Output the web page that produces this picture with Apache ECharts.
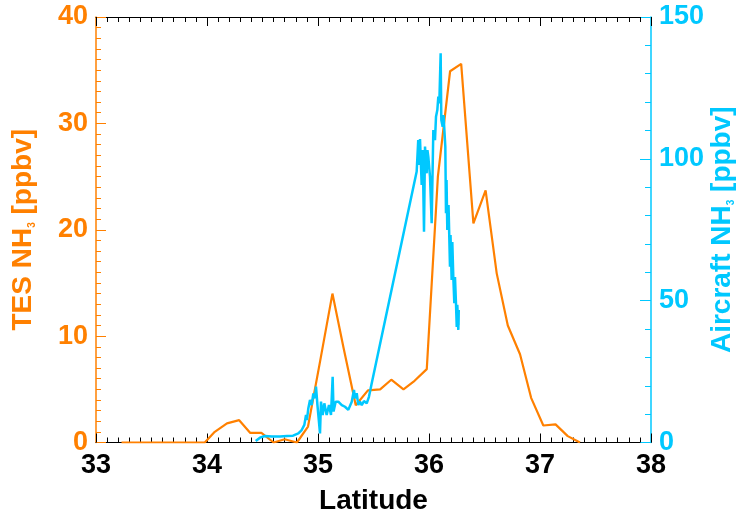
<!DOCTYPE html>
<html><head><meta charset="utf-8">
<script src="https://cdn.jsdelivr.net/npm/echarts@6.0.0/dist/echarts.min.js"></script>
<style>html,body{margin:0;padding:0;background:#fff}#c{width:738px;height:511px}</style>
</head><body><div id="c"></div>
<script>
// TES NH3 (left axis, ppbv)
const tesLat = [33.23,33.34,33.44,33.55,33.65,33.76,33.87,33.98,34.07,34.18,34.29,34.39,34.49,34.60,34.70,34.81,34.91,35.02,35.13,35.23,35.34,35.45,35.56,35.66,35.77,35.87,35.98,36.08,36.19,36.29,36.40,36.51,36.61,36.71,36.82,36.92,37.03,37.14,37.25,37.36];
const tesVal = [0,0,0,0,0,0,0,0,1.0,1.8,2.1,0.9,0.9,0,0.3,0,1.5,7.7,14.0,8.9,3.5,4.9,5.0,5.9,5.0,5.8,6.9,25.0,34.9,35.6,20.6,23.7,15.9,11.0,8.3,4.2,1.6,1.7,0.6,0];
// Aircraft NH3 (right axis, ppbv)
const airLat = [34.439,34.477,34.523,34.586,34.658,34.721,34.775,34.793,34.823,34.853,34.877,34.892,34.900,34.913,34.928,34.943,34.958,34.973,34.982,34.995,35.018,35.027,35.042,35.057,35.078,35.099,35.117,35.132,35.140,35.159,35.183,35.214,35.243,35.273,35.304,35.324,35.333,35.349,35.363,35.378,35.394,35.414,35.439,35.459,35.484,35.889,35.903,35.912,35.919,35.934,35.943,35.955,35.964,35.979,35.986,35.994,36.009,36.024,36.039,36.054,36.063,36.075,36.084,36.093,36.105,36.111,36.123,36.131,36.147,36.153,36.158,36.165,36.176,36.189,36.194,36.204,36.210,36.219,36.228,36.234,36.243,36.250,36.255,36.264,36.268,36.266];
const airVal = [0.5,1.7,2.3,2.1,2.1,2.3,2.4,1.7,3.2,4.4,6.2,9.7,7.9,12.1,15.0,13.2,17.3,15.6,19.7,13.2,3.2,14.4,9.7,13.8,9.7,13.2,9.7,23.2,10.9,14.4,14.4,13.2,12.6,11.5,14.4,18.5,15.6,17.4,13.2,14.4,13.2,14.6,13.8,16.1,20.9,95.5,106.6,97.8,107.0,90.8,103.1,74.3,104.3,94.9,103.1,100.7,93.7,77.3,110.2,106.6,114.8,117.2,121.9,119.6,137.2,113.7,111.3,115.4,104.3,80.8,92.5,74.9,83.7,62.0,73.1,57.3,70.7,58.4,49.1,58.3,49.2,40.7,48.5,39.7,46.7,41.4];
const xTicks = [33,34,35,36,37,38];
const leftTicks = [0,10,20,30,40];
const rightTicks = [0,50,100,150];

const ORANGE = '#FF8000';
const CYAN = '#00C8FF';
const FONT = "'Liberation Sans', Arial, Helvetica, sans-serif";

const tesData = tesLat.map((x, i) => [x, tesVal[i]]);
const airData = airLat.map((x, i) => [x, airVal[i]]);

const chart = echarts.init(document.getElementById('c'), null, {renderer: 'canvas'});
const xCommon = {
  type: 'value', min: xTicks[0], max: xTicks[xTicks.length - 1], interval: 1,
  splitLine: {show: false},
  axisLine: {show: true, onZero: false, lineStyle: {color: '#000', width: 1}},
  axisTick: {show: true, inside: true, length: 9, lineStyle: {color: '#000', width: 1}},
  minorTick: {show: true, splitNumber: 10, length: 5, lineStyle: {color: '#000', width: 1}},
};
chart.setOption({
  animation: false,
  backgroundColor: '#fff',
  grid: {left: 96, right: 87, top: 17, bottom: 68.5, containLabel: false, outerBoundsMode: 'none'},
  xAxis: [
    Object.assign({}, xCommon, {
      position: 'bottom',
      name: 'Latitude', nameLocation: 'middle', nameGap: 45, nameMoveOverlap: false,
      nameTextStyle: {fontSize: 28, fontWeight: 'bold', color: '#000', fontFamily: FONT},
      axisLabel: {show: true, margin: 10, fontSize: 27, fontWeight: 'bold', color: '#000', fontFamily: FONT}
    }),
    Object.assign({}, xCommon, {position: 'top', axisLabel: {show: false}})
  ],
  yAxis: [
    {
      type: 'value', position: 'left', min: 0, max: 40, interval: 10,
      splitLine: {show: false},
      axisLine: {show: true, onZero: false, lineStyle: {color: ORANGE, width: 1.5}},
      axisTick: {show: true, inside: true, length: 10, lineStyle: {color: ORANGE, width: 1}},
      minorTick: {show: true, splitNumber: 10, length: 5, lineStyle: {color: ORANGE, width: 1}},
      axisLabel: {margin: 8, fontSize: 27, fontWeight: 'bold', color: ORANGE, fontFamily: FONT},
      name: 'TES NH{sub|3} [ppbv]', nameLocation: 'middle', nameRotate: 90, nameGap: 59, nameMoveOverlap: false,
      nameTextStyle: {fontSize: 28, fontWeight: 'bold', color: ORANGE, fontFamily: FONT,
        rich: {sub: {fontSize: 10, fontWeight: 'bold', color: ORANGE, fontFamily: FONT, verticalAlign: 'bottom'}}}
    },
    {
      type: 'value', position: 'right', min: 0, max: 150, interval: 50,
      splitLine: {show: false},
      axisLine: {show: true, onZero: false, lineStyle: {color: CYAN, width: 1.5}},
      axisTick: {show: true, inside: true, length: 11, lineStyle: {color: CYAN, width: 1}},
      minorTick: {show: true, splitNumber: 5, length: 6, lineStyle: {color: CYAN, width: 1}},
      axisLabel: {margin: 8, fontSize: 27, fontWeight: 'bold', color: CYAN, fontFamily: FONT},
      name: 'Aircraft NH{sub|3} [ppbv]', nameLocation: 'middle', nameRotate: 90, nameGap: 57, nameMoveOverlap: false,
      nameTextStyle: {fontSize: 28, fontWeight: 'bold', color: CYAN, fontFamily: FONT,
        rich: {sub: {fontSize: 10, fontWeight: 'bold', color: CYAN, fontFamily: FONT, verticalAlign: 'bottom'}}}
    }
  ],
  series: [
    {type: 'line', name: 'TES', xAxisIndex: 0, yAxisIndex: 0, data: tesData, showSymbol: false, symbol: 'none',
      lineStyle: {color: ORANGE, width: 2.2}, z: 2},
    {type: 'line', name: 'Aircraft', xAxisIndex: 0, yAxisIndex: 1, data: airData, showSymbol: false, symbol: 'none',
      lineStyle: {color: CYAN, width: 2.5}, z: 3}
  ]
});
</script>
</body></html>
